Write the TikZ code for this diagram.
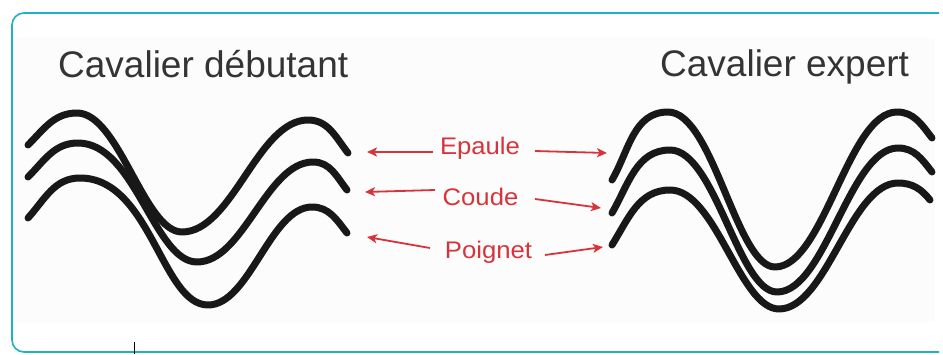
\documentclass[tikz,border=0pt]{standalone}
\usepackage{fontspec}
\setmainfont{Liberation Sans}
\usetikzlibrary{calc,arrows.meta}

\definecolor{frameteal}{RGB}{30,176,196}
\definecolor{titlegray}{RGB}{52,52,52}
\definecolor{labelred}{RGB}{214,52,58}
\definecolor{wavegray}{RGB}{24,24,24}
\definecolor{panelbg}{RGB}{252,252,252}

\tikzset{
  wave/.style={draw=wavegray, line width=7pt, line cap=round, line join=round},
  title/.style={anchor=base west, inner sep=0pt, text=titlegray,
    font=\fontsize{37}{40}\selectfont},
  partlabel/.style={anchor=base, inner sep=0pt, text=labelred,
    font=\fontsize{24}{28}\selectfont},
  pointer/.style={draw=labelred, line width=1.8pt,
    -{Stealth[length=10pt,width=9pt,inset=2.5pt]}},
}

% one strand: start, crest, trough, crest, end; #7 start angle,
% #8 how broad the first crest is
\newcommand{\strand}[8]{%
  \coordinate (#1-a) at #2;
  \coordinate (#1-b) at #3;
  \coordinate (#1-c) at #4;
  \coordinate (#1-d) at #5;
  \coordinate (#1-e) at #6;
  \path[wave] (#1-a) to[out=#7,in=180] (#1-b)
    .. controls ($(#1-b)!#8!(#1-c|-#1-b)$) and ($(#1-c)!.36!(#1-b|-#1-c)$) .. (#1-c)
    .. controls ($(#1-c)!.40!(#1-d|-#1-c)$) and ($(#1-d)!.40!(#1-c|-#1-d)$) .. (#1-d)
    to[out=0,in=128] (#1-e);%
}

\begin{document}
\begin{tikzpicture}[x=1pt,y=1pt]
  \useasboundingbox (0,0) rectangle (943,354);

  % panel and frame, open towards the right edge
  \fill[panelbg] (16,32) rectangle (935,316);
  \draw[frameteal, line width=1.6pt, rounded corners=12pt]
    (939,341) -- (12,341) -- (12,2) -- (939,2);
  \draw[black, line width=0.8pt] (134,0) -- (134,12);

  % titles
  \node[title] (beg) at (58,276) {Cavalier débutant};
  \node[title] (exp) at (660,277) {Cavalier expert};

  % beginner rider: strands drift apart
  \strand{bt}{(28,209)}{(77,241)}{(182,122)}{(308,234)}{(348,201)}{45}{.40}
  \strand{bm}{(28,177)}{(78,211)}{(197,92)}{(313,192)}{(347,164)}{45}{.48}
  \strand{bb}{(28,136)}{(80,176)}{(208,49)}{(312,147)}{(347,121)}{48}{.55}

  % expert rider: strands stay together
  \strand{et}{(612,174)}{(668,242)}{(775,87)}{(897,242)}{(932,216)}{60}{.42}
  \strand{em}{(612,141)}{(670,204)}{(777,62)}{(898,206)}{(932,182)}{60}{.42}
  \strand{eb}{(612,109)}{(670,164)}{(779,45)}{(898,171)}{(930,154)}{58}{.42}

  % joint labels
  \node[partlabel] (ep) at (480,199) {\scalebox{1.07}[1]{Epaule}};
  \node[partlabel] (co) at (480.5,148) {\scalebox{1.07}[1]{Coude}};
  \node[partlabel] (po) at (488.5,96) {\scalebox{1.07}[1]{Poignet}};

  \coordinate (epL0) at (433,202); \coordinate (epL1) at (367,202);
  \coordinate (epR0) at (535,203); \coordinate (epR1) at (607,201);
  \coordinate (coL0) at (435,164); \coordinate (coL1) at (365,162);
  \coordinate (coR0) at (535,155); \coordinate (coR1) at (601,146);
  \coordinate (poL0) at (430,106); \coordinate (poL1) at (367,117);
  \coordinate (poR0) at (545,99);  \coordinate (poR1) at (603,107);

  \draw[pointer] (epL0) -- (epL1);
  \draw[pointer] (epR0) -- (epR1);
  \draw[pointer] (coL0) -- (coL1);
  \draw[pointer] (coR0) -- (coR1);
  \draw[pointer] (poL0) -- (poL1);
  \draw[pointer] (poR0) -- (poR1);
\end{tikzpicture}
\end{document}
